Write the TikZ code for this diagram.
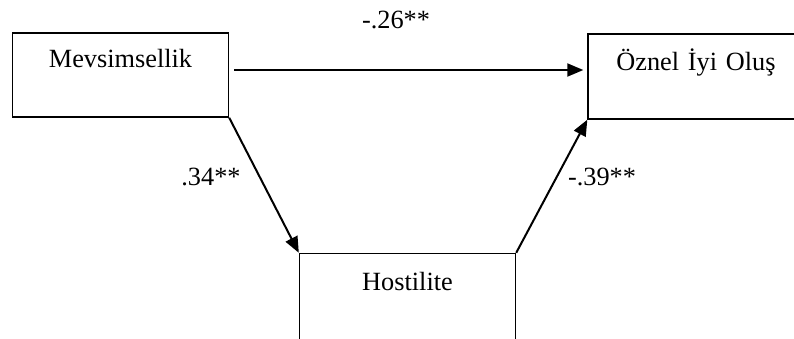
\documentclass[tikz,border=0pt]{standalone}
\usepackage{fontspec}
\setmainfont{Liberation Serif}
\usetikzlibrary{arrows.meta}

\begin{document}
\begin{tikzpicture}[
    x=1pt, y=-1pt,
    every node/.style={font=\fontsize{26.3}{30}\selectfont},
    varbox/.style={rectangle, draw, line width=1.4pt, inner sep=0pt,
                   minimum width=216pt, text width=216pt, align=center,
                   text height=34pt, text depth=50pt},
    effect/.style={line width=2pt, -{Triangle[length=16pt, width=13pt]}},
    coef/.style={anchor=base},
  ]
  \useasboundingbox (0,0) rectangle (794,338);

  \node[varbox] (mev) at (120.5,75) {Mevsimsellik};
  \node[varbox, text height=36pt, text depth=49pt] (ozn) at (696,76.5) {Öznel İyi Oluş};
  \node[varbox, text height=37pt, text depth=50pt] (hos) at (407.5,297) {Hostilite};

  \draw[effect] ([xshift=5pt,yshift=5pt]mev.east) -- ([xshift=-4pt,yshift=5pt]mev.east -| ozn.west);
  \draw[effect] (mev.south east) -- (hos.north west);
  \draw[effect] (hos.north east) -- (ozn.south west);

  \node[coef] (c1) at (396,28) {-.26**};
  \node[coef] (c2) at (211,185) {.34**};
  \node[coef] (c3) at (602,185) {-.39**};
\end{tikzpicture}
\end{document}
